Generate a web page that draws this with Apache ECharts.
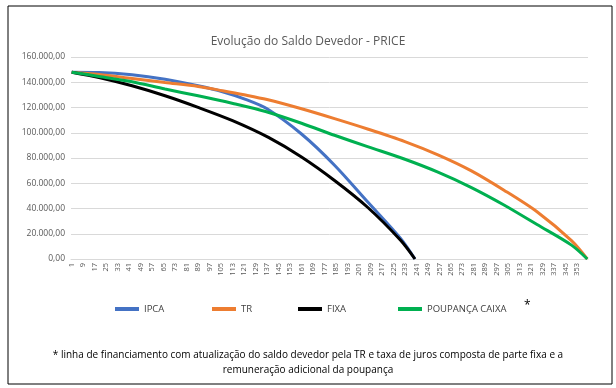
<!DOCTYPE html>
<html><head><meta charset="utf-8">
<script src="https://cdn.jsdelivr.net/npm/echarts@6/dist/echarts.min.js"></script>
<style>html,body{margin:0;padding:0;background:#fff}#c{width:616px;height:388px}</style>
</head><body><div id="c"></div>
<script>
// Months (installments) 1..360 on the category axis
const months = Array.from({length: 360}, (_, i) => String(i + 1));

// Points (month, balance)
const ipcaMonths = [1, 20, 43, 66, 89, 106, 122, 137, 161, 184, 207, 230, 240];
const ipcaValues = [148000, 147800, 146000, 142400, 137200, 132500, 126500, 119000, 99000, 74300, 45300, 16300, 0];

const fixaMonths = [1, 20, 43, 66, 89, 113, 138, 161, 184, 207, 230, 240];
const fixaValues = [148000, 143800, 137200, 129300, 120100, 109600, 96300, 80800, 62200, 41000, 14800, 0];

const trMonths = [1, 20, 43, 66, 89, 106, 121, 137, 161, 184, 207, 233, 256, 279, 302, 325, 349, 360];
const trValues = [148000, 146200, 143000, 139800, 136700, 133300, 130100, 126300, 119000, 111200, 103000, 93000, 82500, 70000, 54500, 37400, 14500, 0];

const poupMonths = [1, 20, 43, 66, 89, 114, 136, 161, 184, 207, 233, 256, 279, 302, 325, 349, 360];
const poupValues = [148000, 144600, 140400, 134600, 129300, 123000, 116800, 107500, 98000, 89000, 79000, 68800, 56800, 42800, 27300, 11000, 0];

const seriesNames = ['IPCA', 'TR', 'FIXA', 'POUPANÇA CAIXA'];
const seriesColors = ['#4472C4', '#ED7D31', '#000000', '#00B050'];

const yTicks = [0, 20000, 40000, 60000, 80000, 100000, 120000, 140000, 160000];

function pairs(ms, vs) { return ms.map((m, i) => [String(m), vs[i]]); }
function fmt(v) {
  const s = Math.round(v).toString().replace(/\B(?=(\d{3})+(?!\d))/g, '.');
  return s + ',00';
}

const font = 'Open Sans, Noto Sans, sans-serif';
const chart = echarts.init(document.getElementById('c'), null, {renderer: 'canvas'});
const dataSets = [pairs(ipcaMonths, ipcaValues), pairs(trMonths, trValues), pairs(fixaMonths, fixaValues), pairs(poupMonths, poupValues)];
const legendLeft = [115, 212, 298, 398];

chart.setOption({
  animation: false,
  title: {
    text: 'Evolução do Saldo Devedor - PRICE',
    left: 'center', top: 31,
    textStyle: {fontFamily: font, fontSize: 12, fontWeight: 'normal', color: '#595959'}
  },
  legend: seriesNames.map((n, i) => ({
    data: [n], left: legendLeft[i], top: 304, padding: 0,
    itemWidth: 24, itemHeight: 4, icon: 'rect', itemGap: 0,
    textStyle: {fontFamily: font, fontSize: 9.5, color: '#404040'}
  })),
  grid: {left: 71, right: 28, top: 57, bottom: 129},
  xAxis: {
    type: 'category', data: months, boundaryGap: true,
    axisLine: {show: true, lineStyle: {color: '#d9d9d9'}},
    axisTick: {show: false},
    axisLabel: {interval: 7, rotate: 90, fontFamily: font, fontSize: 7.5, color: '#595959', margin: 4}
  },
  yAxis: {
    type: 'value', min: yTicks[0], max: yTicks[yTicks.length - 1], interval: 20000,
    axisLine: {show: false}, axisTick: {show: false},
    splitLine: {lineStyle: {color: '#d9d9d9'}},
    axisLabel: {formatter: fmt, fontFamily: font, fontSize: 8.5, color: '#595959', margin: 6}
  },
  series: seriesNames.map((n, i) => ({
    name: n, type: 'line', data: dataSets[i], smooth: 0.3,
    showSymbol: false, symbol: 'none',
    lineStyle: {width: 3, color: seriesColors[i]}, itemStyle: {color: seriesColors[i]}
  })),
  graphic: [
    {type: 'rect', shape: {x: 8, y: 6, width: 604, height: 378}, style: {fill: 'none', stroke: '#000', lineWidth: 1}, silent: true},
    {type: 'text', left: 524, top: 300, style: {text: '*', font: '12px ' + font, fill: '#000'}},
    {type: 'text', x: 308, y: 348, style: {text: '* linha de financiamento com atualização do saldo devedor pela TR e taxa de juros composta de parte fixa e a\nremuneração adicional da poupança', font: '10px ' + font, fill: '#000', textAlign: 'center', lineHeight: 15}}
  ]
});
</script></body></html>
